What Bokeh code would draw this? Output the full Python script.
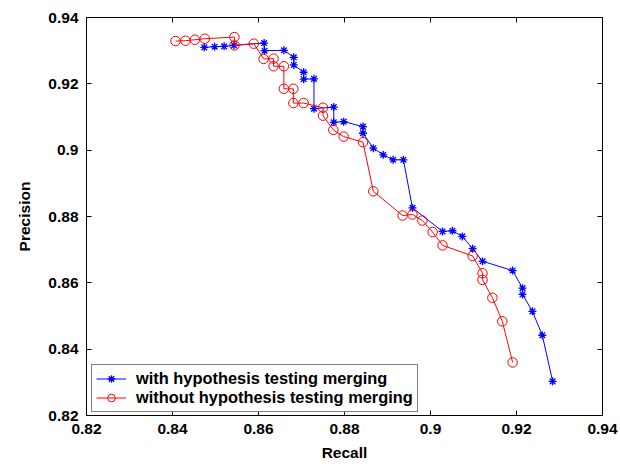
from bokeh.plotting import figure
from bokeh.models import Range1d, FixedTicker, LinearAxis, Legend, LegendItem, ColumnDataSource
from bokeh.embed import file_html
from bokeh.resources import INLINE

# Data
with_recall = [0.8474, 0.8498, 0.8520, 0.8543, 0.8613, 0.8614, 0.8659, 0.8682, 0.8682,
               0.8705, 0.8705, 0.8729, 0.8729, 0.8775, 0.8775, 0.8798, 0.8843, 0.8843,
               0.8867, 0.8890, 0.8913, 0.8937, 0.8958, 0.9028, 0.9051, 0.9074, 0.9098,
               0.9121, 0.9191, 0.9214, 0.9214, 0.9237, 0.9260, 0.9284]
with_precision = [0.9310, 0.9312, 0.9313, 0.9316, 0.9323, 0.9300, 0.9301, 0.9280, 0.9257,
                  0.9235, 0.9214, 0.9215, 0.9125, 0.9130, 0.9084, 0.9086, 0.9071, 0.9051,
                  0.9006, 0.8986, 0.8971, 0.8971, 0.8826, 0.8755, 0.8757, 0.8740, 0.8703,
                  0.8665, 0.8637, 0.8584, 0.8565, 0.8514, 0.8442, 0.8303]

without_recall = [0.8407, 0.8430, 0.8452, 0.8475, 0.8544, 0.8544, 0.8589, 0.8612, 0.8635,
                  0.8635, 0.8659, 0.8659, 0.8681, 0.8681, 0.8705, 0.8750, 0.8750, 0.8774,
                  0.8798, 0.8843, 0.8867, 0.8935, 0.8958, 0.8981, 0.9005, 0.9028, 0.9098,
                  0.9121, 0.9121, 0.9144, 0.9167, 0.9191]
without_precision = [0.9329, 0.9330, 0.9333, 0.9336, 0.9341, 0.9316, 0.9321, 0.9275, 0.9276,
                     0.9253, 0.9253, 0.9185, 0.9185, 0.9142, 0.9142, 0.9128, 0.9104, 0.9061,
                     0.9041, 0.9024, 0.8876, 0.8803, 0.8806, 0.8788, 0.8753, 0.8713, 0.8681,
                     0.8629, 0.8609, 0.8555, 0.8484, 0.8360]

tick_values = [0.82, 0.84, 0.86, 0.88, 0.9, 0.92, 0.94]
tick_labels = ["0.82", "0.84", "0.86", "0.88", "0.9", "0.92", "0.94"]

series_names = ["with hypothesis testing merging", "without hypothesis testing merging"]

FONT = "Liberation Sans"

p = figure(width=620, height=464, output_backend="svg", toolbar_location=None,
           x_range=Range1d(0.82, 0.94), y_range=Range1d(0.82, 0.94),
           min_border_left=86, min_border_right=18, min_border_top=17, min_border_bottom=49)

p.xgrid.visible = False
p.ygrid.visible = False
p.outline_line_color = "black"
p.outline_line_width = 1
p.background_fill_color = "white"
p.border_fill_color = "white"

overrides = {v: l for v, l in zip(tick_values, tick_labels)}

for ax in [p.xaxis[0], p.yaxis[0]]:
    ax.ticker = FixedTicker(ticks=tick_values)
    ax.major_label_overrides = overrides
    ax.major_tick_in = 5
    ax.major_tick_out = 0
    ax.minor_tick_line_color = None
    ax.axis_line_color = "black"
    ax.major_tick_line_color = "black"
    ax.major_label_text_font = FONT
    ax.major_label_text_font_style = "bold"
    ax.major_label_text_font_size = "15.5px"
    ax.major_label_text_color = "black"
    ax.axis_label_text_font = FONT
    ax.axis_label_text_font_style = "bold"
    ax.axis_label_text_font_size = "15.5px"
    ax.axis_label_text_color = "black"

p.xaxis[0].axis_label = "Recall"
p.yaxis[0].axis_label = "Precision"
p.xaxis[0].major_label_standoff = 8
p.xaxis[0].axis_label_standoff = 7
p.yaxis[0].major_label_standoff = 8
p.yaxis[0].axis_label_standoff = 12

# ticks on top and right (box style), without labels
empty = {v: "" for v in tick_values}
for side in ["above", "right"]:
    ax = LinearAxis(ticker=FixedTicker(ticks=tick_values), major_label_overrides=empty,
                    major_tick_in=5, major_tick_out=0, minor_tick_line_color=None,
                    axis_line_color=None, major_label_standoff=0)
    p.add_layout(ax, side)

src_with = ColumnDataSource(dict(x=with_recall, y=with_precision))
src_without = ColumnDataSource(dict(x=without_recall, y=without_precision))

l1 = p.line("x", "y", source=src_with, line_color="#0000ff", line_width=1)
s1 = p.scatter("x", "y", source=src_with, marker="asterisk", size=8,
               line_color="#0000ff", line_width=1.3)
l2 = p.line("x", "y", source=src_without, line_color="#ff0000", line_width=1)
s2 = p.scatter("x", "y", source=src_without, marker="circle", size=9.5,
               line_color="#ff0000", fill_color=None, line_width=1)

legend = Legend(items=[LegendItem(label=series_names[0], renderers=[l1, s1]),
                       LegendItem(label=series_names[1], renderers=[l2, s2])],
                location=(5, 3), orientation="vertical",
                border_line_color="black", border_line_width=1.5,
                background_fill_color="white", background_fill_alpha=1,
                label_text_font=FONT, label_text_font_style="bold",
                label_text_font_size="16.4px", label_text_color="black",
                glyph_width=30, glyph_height=19, label_height=19,
                label_standoff=10, spacing=0, padding=4, margin=0)
p.add_layout(legend, "center")

open("out.html", "w").write(file_html(p, INLINE))
